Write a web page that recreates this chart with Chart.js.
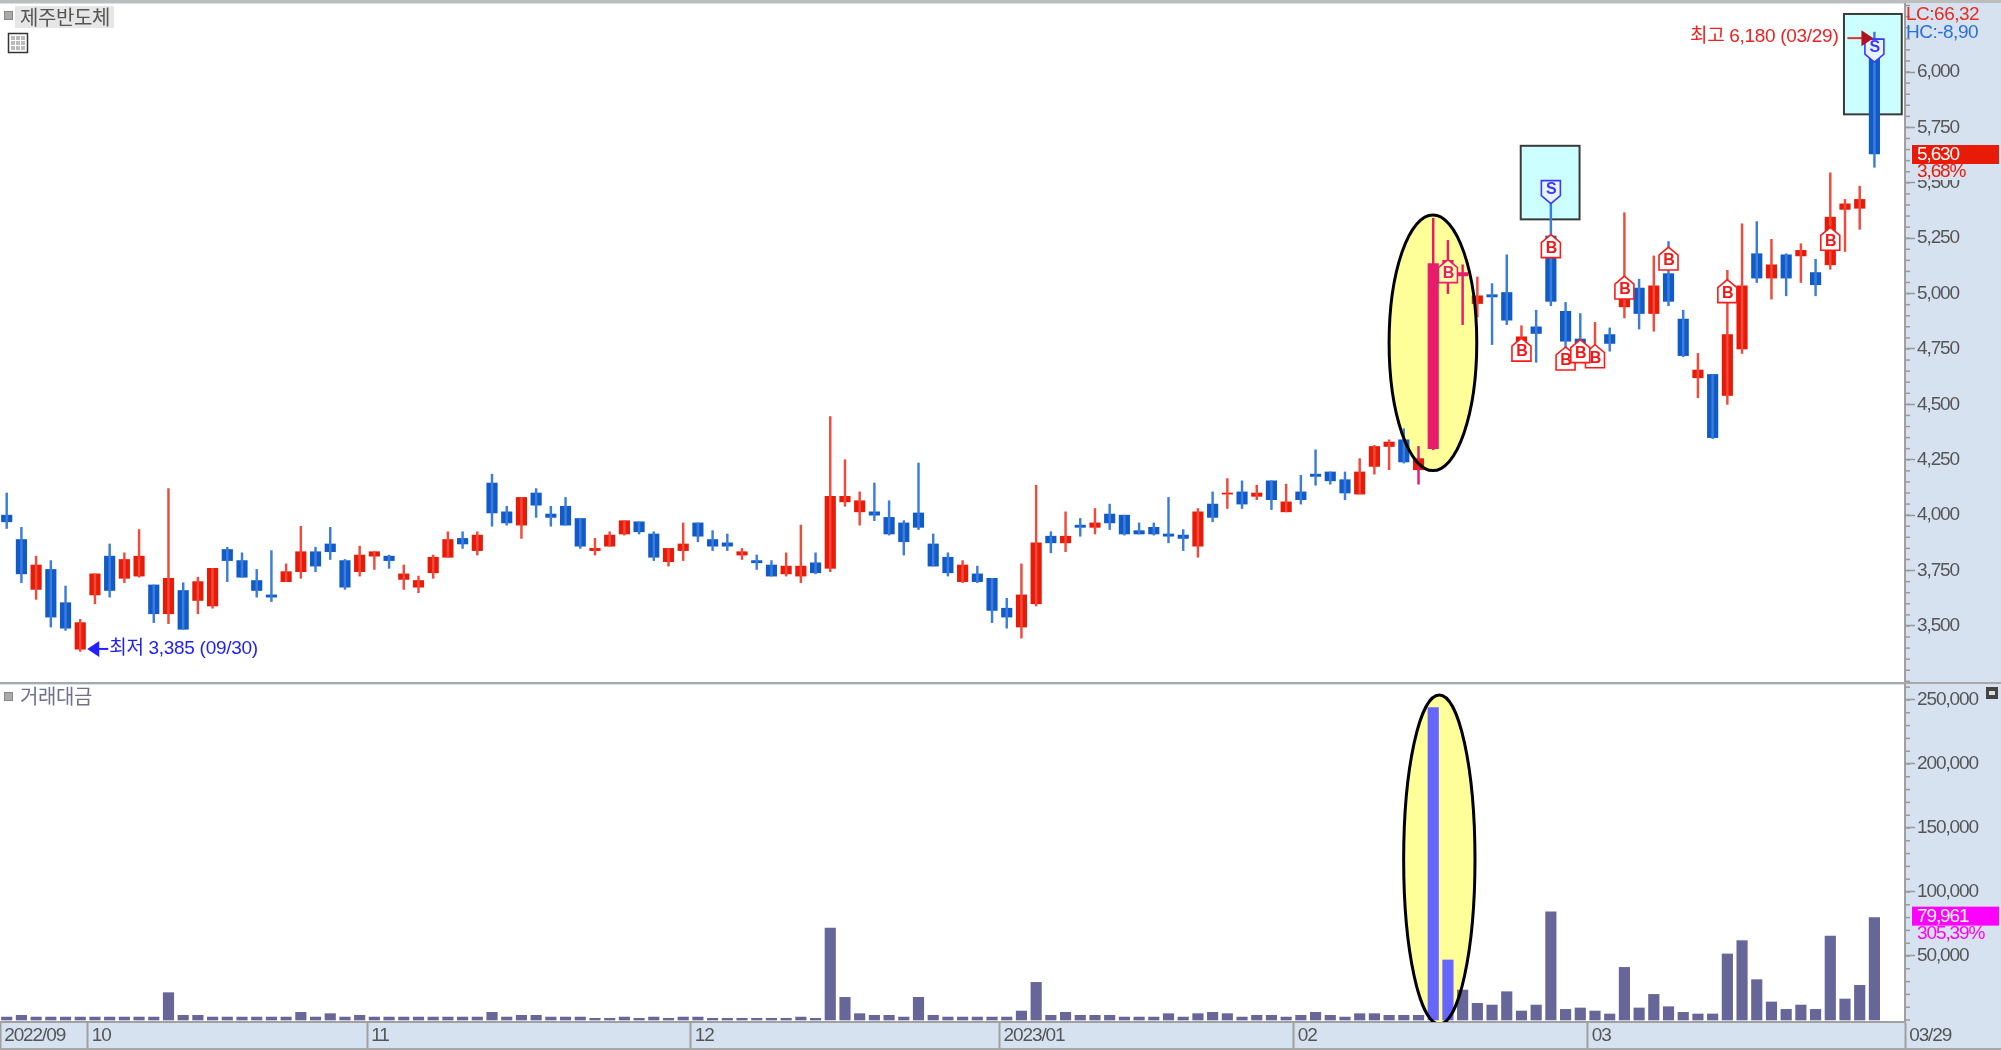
<!DOCTYPE html>
<html>
<head>
<meta charset="utf-8">
<title>제주반도체</title>
<script src="https://cdn.jsdelivr.net/npm/chart.js"></script>
<style>
  body { margin: 0; padding: 0; background-color: #d6e2f0; overflow: hidden; }
  #wrap { position: relative; width: 2001px; height: 1050px; }
  canvas { position: absolute; left: 0; }
  #priceChart { top: 0; }
  #volChart { top: 684px; }
</style>
</head>
<body>
<div id="wrap">
  <canvas id="priceChart" width="2001" height="684"></canvas>
  <canvas id="volChart" width="2001" height="366"></canvas>
</div>

<script>
const monthStarts = [0, 6, 25, 47, 68, 88, 108];
const monthLabels = ['2022/09', '10', '11', '12', '2023/01', '02', '03'];
const lastDate = '03/29';

const opens = [4000,3890,3665,3755,3605,3395,3640,3815,3715,3725,3685,3555,3660,3615,3590,3845,
  3795,3705,3640,3700,3745,3835,3870,3795,3745,3815,3815,3710,3675,3740,3810,3895,
  3840,4145,4015,3955,4100,4005,4040,3985,3840,3860,3915,3970,3915,3790,3840,3965,
  3890,3875,3820,3795,3775,3735,3725,3785,3760,4060,4015,4015,3990,3965,4010,3870,
  3810,3700,3735,3715,3580,3495,3600,3905,3875,3955,3945,4005,4000,3930,3945,3915,
  3910,3860,4050,4095,4105,4085,4155,4015,4105,4185,4195,4160,4095,4220,4310,4340,
  4205,4300,5075,5080,4955,4995,5005,4760,4850,5260,4920,4795,4695,4815,4940,5025,
  4910,5090,4885,4620,4635,4540,4750,5180,5070,5175,5170,5095,5130,5380,5385,6150];
const highs = [4100,3945,3815,3795,3680,3530,3735,3870,3830,3935,3685,4120,3695,3720,3760,3855,
  3830,3755,3840,3780,3950,3855,3945,3800,3860,3835,3820,3775,3725,3820,3925,3925,
  3925,4185,4040,4080,4120,4040,4080,3985,3895,3925,3975,3970,3925,3850,3965,3965,
  3930,3915,3850,3820,3795,3830,3955,3830,4445,4250,4105,4145,4065,3975,4235,3915,
  3830,3795,3770,3715,3625,3780,4135,3925,4015,3985,4030,4050,4000,3965,3965,4080,
  3935,4030,4105,4165,4155,4135,4155,4140,4180,4295,4195,4195,4255,4315,4340,4390,
  4310,5340,5240,5130,5075,5045,5175,4855,4925,5510,4960,4910,4870,4845,5365,5065,
  5170,5235,4925,4730,4635,5105,5315,5325,5245,5180,5225,5155,5545,5425,5485,6180];
const lows = [3940,3695,3620,3495,3480,3385,3600,3630,3695,3720,3515,3510,3485,3555,3580,3700,
  3720,3630,3610,3700,3715,3745,3800,3665,3725,3755,3760,3665,3650,3715,3810,3850,
  3820,3950,3955,3895,3990,3950,3955,3850,3820,3860,3910,3915,3795,3770,3795,3880,
  3840,3840,3800,3755,3725,3725,3695,3735,3745,4040,3955,3975,3910,3820,3935,3770,
  3725,3695,3695,3515,3490,3445,3590,3830,3835,3905,3915,3935,3910,3915,3910,3875,
  3840,3810,3970,4030,4030,4070,4025,4015,4050,4135,4140,4070,4095,4185,4205,4235,
  4140,4295,5000,4860,4895,4770,4860,4755,4690,4945,4715,4700,4680,4740,4890,4840,
  4830,4945,4715,4530,4345,4500,4730,5050,4975,4990,5050,4990,5110,5190,5290,5570];
const closes = [3970,3735,3775,3540,3490,3515,3735,3660,3800,3815,3555,3715,3485,3700,3760,3795,
  3720,3660,3630,3745,3835,3770,3835,3675,3820,3835,3795,3735,3705,3810,3890,3870,
  3910,4010,3965,4080,4045,3990,3955,3860,3850,3910,3975,3925,3810,3850,3870,3905,
  3860,3860,3835,3785,3725,3770,3770,3740,4085,4085,4065,4000,3915,3880,3945,3770,
  3740,3775,3700,3570,3540,3640,3875,3875,3905,3945,3965,3965,3915,3915,3915,3905,
  3895,4015,3990,4100,4050,4100,4070,4060,4070,4175,4155,4100,4195,4310,4330,4240,
  4255,5135,5150,5095,4990,4985,4880,4805,4820,4965,4785,4775,4730,4775,5000,4910,
  5035,4965,4720,4655,4350,4815,5035,5070,5130,5070,5195,5040,5345,5405,5425,5630];
const volumes = [2300,3650,2300,2300,2300,2300,2300,2300,2300,2300,2300,21350,3650,3650,2300,2300,
  2300,2300,2300,2300,6000,2300,4950,2300,3650,2300,2300,2300,2300,2300,2300,2300,
  2300,6000,2300,3650,3650,2300,2300,2300,1300,1300,2300,1300,2300,1300,2300,2300,
  1300,1300,1300,1300,1300,1300,2300,1300,71900,17700,4950,3650,3650,2300,17700,3650,
  2300,2300,2300,2300,2300,7000,29400,3650,6000,3650,3650,3650,2300,2300,2300,4950,
  2300,4950,6000,4950,2300,3650,3650,2300,3650,6000,3650,2300,4950,4950,3650,3650,
  3650,244000,46900,23400,13000,11700,22100,7000,11700,84600,8300,9400,7000,4700,41100,9400,
  20000,10400,6000,4700,4700,51600,62000,31500,14100,8300,11700,8300,65600,16400,27100,79961];

const priceTicks = [3500,3750,4000,4250,4500,4750,5000,5250,5500,5750,6000];
const volumeTicks = [50000,100000,150000,200000,250000];

const buyIndex = [103,108,106,107,98,105,110,113,117,124];
const buyPrice = [4745,4715,4705,4738,5099,5212,5025,5156,5009,5245];
const sellIndex = [105,127];
const sellPrice = [5460,6099];

const RED = '#e81a08', BLUE = '#115bc9', PINK = '#e81c6c', VOL = '#666699', VOLHI = '#6666ff';
const FONT = '"Liberation Sans", "Noto Sans CJK KR", sans-serif';
const KFONT = '"Noto Sans CJK KR", sans-serif';
const PANEL = '#d6e2f0';
const SQUEEZE = '-1.1px';
const XMIN = -0.456, XMAX = 129.08;
const pinkBodies = [97,98,99];
const pinkWicks = [96,97,98,99];
const n = opens.length;

function isUp(i) { return closes[i] >= opens[i]; }

function ellipse(ctx, chart, x0, x1, v0, v1) {
  const xs = chart.scales.x, ys = chart.scales.y;
  const l = xs.getPixelForValue(x0), r = xs.getPixelForValue(x1);
  const t = ys.getPixelForValue(v0), b = ys.getPixelForValue(v1);
  ctx.beginPath();
  ctx.ellipse((l + r) / 2, (t + b) / 2, (r - l) / 2, (b - t) / 2, 0, 0, Math.PI * 2);
}

function clipArea(ctx, a) {
  ctx.beginPath();
  ctx.rect(a.left, a.top, a.right - a.left, a.bottom - a.top);
  ctx.clip();
}

function minorTicks(ctx, chart, step) {
  const ys = chart.scales.y;
  ctx.strokeStyle = '#999';
  ctx.lineWidth = 1.5;
  for (let v = Math.ceil(ys.min / step) * step; v <= ys.max; v += step) {
    const y = ys.getPixelForValue(v);
    ctx.beginPath();
    ctx.moveTo(ys.left, y);
    ctx.lineTo(ys.left + 5, y);
    ctx.stroke();
  }
}

function marker(ctx, x, y, letter, yellow) {
  const down = letter === 'S';
  const s = down ? -1 : 1;
  ctx.beginPath();
  ctx.moveTo(x, y - 12 * s);
  ctx.lineTo(x + 9.5, y - 4 * s);
  ctx.lineTo(x + 9.5, y + 11 * s);
  ctx.lineTo(x - 9.5, y + 11 * s);
  ctx.lineTo(x - 9.5, y - 4 * s);
  ctx.closePath();
  ctx.fillStyle = down ? '#e6f4ff' : (yellow ? '#ffffb0' : '#fff');
  ctx.fill();
  ctx.lineWidth = 1.6;
  ctx.strokeStyle = down ? '#3a3aff' : (yellow ? PINK : '#ff1a1a');
  ctx.stroke();
  ctx.fillStyle = down ? '#3a3aff' : (yellow ? PINK : '#f01818');
  ctx.font = 'bold 16px "Liberation Sans", sans-serif';
  ctx.textAlign = 'center';
  ctx.textBaseline = 'middle';
  ctx.fillText(letter, x, y + (down ? -2 : 2));
}

function valueBox(ctx, y, color, text, pct) {
  ctx.fillStyle = PANEL;
  ctx.fillRect(1912, y + 9, 80, 17);
  ctx.fillStyle = color;
  ctx.fillRect(1912, y - 9, 87, 19);
  ctx.font = '19px ' + FONT;
  ctx.textAlign = 'left';
  ctx.textBaseline = 'middle';
  ctx.fillStyle = '#fff';
  ctx.fillText(text, 1917, y + 1);
  ctx.fillStyle = color;
  ctx.fillText(pct, 1917, y + 18);
}

const paneBase = {
  id: 'paneBase',
  beforeDraw(chart) {
    const a = chart.chartArea, ctx = chart.ctx;
    ctx.letterSpacing = SQUEEZE;
    ctx.fillStyle = '#fff';
    ctx.fillRect(a.left, a.top, a.right - a.left, a.bottom - a.top);
  }
};

const pricePane = {
  id: 'pricePane',
  beforeDatasetsDraw(chart) {
    const ctx = chart.ctx, xs = chart.scales.x, ys = chart.scales.y;
    ctx.save();
    clipArea(ctx, chart.chartArea);
    // signal boxes
    [[102.95, 106.95, 5667, 5335], [124.93, 128.86, 6262, 5809]].forEach(b => {
      const l = xs.getPixelForValue(b[0]), r = xs.getPixelForValue(b[1]);
      const t = ys.getPixelForValue(b[2]), bt = ys.getPixelForValue(b[3]);
      ctx.fillStyle = '#ccffff';
      ctx.fillRect(l, t, r - l, bt - t);
      ctx.strokeStyle = '#3a3a3a';
      ctx.lineWidth = 2;
      ctx.strokeRect(l, t, r - l, bt - t);
    });
    ellipse(ctx, chart, 94.0, 99.96, 5355, 4201);
    ctx.fillStyle = '#ffff99';
    ctx.fill();
    ctx.restore();
  },
  afterDatasetsDraw(chart) {
    const ctx = chart.ctx, xs = chart.scales.x, ys = chart.scales.y;
    ctx.save();
    ellipse(ctx, chart, 94.0, 99.96, 5355, 4201);
    ctx.strokeStyle = '#000';
    ctx.lineWidth = 3;
    ctx.stroke();

    buyIndex.forEach((i, k) => marker(ctx, xs.getPixelForValue(i), ys.getPixelForValue(buyPrice[k]), 'B', i === 98));
    sellIndex.forEach((i, k) => marker(ctx, xs.getPixelForValue(i), ys.getPixelForValue(sellPrice[k]), 'S', false));

    // low / high notes
    const lowX = xs.getPixelForValue(5), lowY = ys.getPixelForValue(3385) - 2.5;
    ctx.fillStyle = ctx.strokeStyle = '#2020ff';
    ctx.lineWidth = 2;
    ctx.beginPath(); ctx.moveTo(lowX + 15, lowY); ctx.lineTo(lowX + 28, lowY); ctx.stroke();
    ctx.beginPath(); ctx.moveTo(lowX + 7, lowY); ctx.lineTo(lowX + 19, lowY - 8); ctx.lineTo(lowX + 19, lowY + 8); ctx.fill();
    ctx.letterSpacing = '-0.3px';
    ctx.font = '19px ' + FONT;
    ctx.textAlign = 'left';
    ctx.textBaseline = 'middle';
    ctx.fillText('최저 3,385 (09/30)', lowX + 29, lowY);

    const hiX = xs.getPixelForValue(127), hiY = ys.getPixelForValue(6180) + 6;
    ctx.fillStyle = '#f02020';
    ctx.textAlign = 'right';
    ctx.fillText('최고 6,180 (03/29)', hiX - 36, hiY - 1);
    ctx.strokeStyle = '#e03030';
    ctx.beginPath(); ctx.moveTo(hiX - 27, hiY); ctx.lineTo(hiX - 8, hiY); ctx.stroke();
    ctx.fillStyle = '#b01020';
    ctx.beginPath(); ctx.moveTo(hiX - 1, hiY); ctx.lineTo(hiX - 13, hiY - 8); ctx.lineTo(hiX - 13, hiY + 8); ctx.fill();
    ctx.restore();
  },
  afterDraw(chart) {
    const ctx = chart.ctx, ys = chart.scales.y;
    ctx.save();
    minorTicks(ctx, chart, 50);

    // top rule and pane divider
    ctx.fillStyle = '#bdbdbd';
    ctx.fillRect(0, 0, 2001, 3);
    ctx.fillStyle = '#a8a8a8';
    ctx.fillRect(0, 682, 2001, 2);

    valueBox(ctx, ys.getPixelForValue(closes[n - 1]), RED, '5,630', '3,68%');

    ctx.letterSpacing = '-0.5px';
    ctx.font = '19px ' + FONT;
    ctx.textAlign = 'left';
    ctx.textBaseline = 'middle';
    ctx.fillStyle = '#e82a20';
    ctx.fillText('LC:66,32', 1906, 15);
    ctx.fillStyle = '#2a70d8';
    ctx.fillText('HC:-8,90', 1906, 33);

    // header
    ctx.fillStyle = '#aaa';
    ctx.fillRect(5, 12, 7, 7);
    ctx.strokeStyle = '#888';
    ctx.lineWidth = 1;
    ctx.strokeRect(4.5, 11.5, 8, 8);
    ctx.fillStyle = '#e6e6e6';
    ctx.fillRect(15, 6, 99, 22);
    ctx.fillStyle = '#555';
    ctx.letterSpacing = '-0.4px';
    ctx.font = '20px ' + KFONT;
    ctx.fillText('제주반도체', 20, 17);

    // table icon
    ctx.strokeStyle = '#333';
    ctx.lineWidth = 1.5;
    ctx.strokeRect(8.5, 33.5, 19, 19);
    ctx.fillStyle = '#bbb';
    ctx.fillRect(11, 36, 14, 14);
    ctx.strokeStyle = '#fff';
    ctx.lineWidth = 1;
    [15.5, 20.5].forEach(x => { ctx.beginPath(); ctx.moveTo(x, 36); ctx.lineTo(x, 50); ctx.stroke(); });
    [40.5, 45.5].forEach(y => { ctx.beginPath(); ctx.moveTo(11, y); ctx.lineTo(25, y); ctx.stroke(); });
    ctx.restore();
  }
};

const volPane = {
  id: 'volPane',
  beforeDatasetsDraw(chart) {
    const ctx = chart.ctx;
    ctx.save();
    clipArea(ctx, chart.chartArea);
    ellipse(ctx, chart, 94.99, 99.84, 253900, -3100);
    ctx.fillStyle = '#ffff99';
    ctx.fill();
    ctx.restore();
  },
  afterDatasetsDraw(chart) {
    const ctx = chart.ctx;
    ctx.save();
    clipArea(ctx, chart.chartArea);
    ellipse(ctx, chart, 94.99, 99.84, 253900, -3100);
    ctx.strokeStyle = '#000';
    ctx.lineWidth = 3;
    ctx.stroke();
    ctx.restore();
  },
  afterDraw(chart) {
    const ctx = chart.ctx, ys = chart.scales.y;
    ctx.save();
    minorTicks(ctx, chart, 10000);
    ctx.fillStyle = '#a8a8a8';
    ctx.fillRect(0, chart.height - 2, 2001, 2);

    valueBox(ctx, ys.getPixelForValue(volumes[n - 1]) - 2, '#ff00ff', '79,961', '305,39%');

    // pane title
    ctx.fillStyle = '#aaa';
    ctx.fillRect(5, 9, 7, 7);
    ctx.strokeStyle = '#888';
    ctx.lineWidth = 1;
    ctx.strokeRect(4.5, 8.5, 8, 8);
    ctx.fillStyle = '#70708c';
    ctx.letterSpacing = '-0.4px';
    ctx.font = '20px ' + KFONT;
    ctx.textAlign = 'left';
    ctx.textBaseline = 'middle';
    ctx.fillText('거래대금', 20, 12);

    // close icon
    ctx.fillStyle = '#444';
    ctx.fillRect(1986, 3, 12, 12);
    ctx.fillStyle = '#ddd';
    ctx.fillRect(1989, 7, 6, 4);
    ctx.restore();
  }
};

function xScale(show) {
  return {
    type: 'linear',
    min: XMIN,
    max: XMAX,
    offset: false,
    display: show,
    afterBuildTicks(s) {
      const vals = monthStarts.map(v => v === 0 ? XMIN : v - 0.5);
      vals.push(XMAX);
      s.ticks = vals.map(v => ({ value: v }));
    },
    afterFit(s) {
      if (show) s.height = 28;
      s.paddingLeft = s.paddingRight = 0;
    },
    border: { display: true, color: '#a0a0a0', width: 2 },
    grid: { offset: false, drawOnChartArea: false, drawTicks: true, tickLength: 27, color: '#a0a0a0', tickColor: '#a0a0a0', tickWidth: 2 },
    ticks: {
      autoSkip: false,
      maxRotation: 0,
      align: 'start',
      padding: -25,
      color: '#555',
      font: { family: FONT, size: 19 },
      callback(v, i) {
        const labels = monthLabels.concat(lastDate);
        return ' ' + labels[i];
      }
    }
  };
}

function yScale(min, max, list) {
  return {
    position: 'right',
    min: min,
    max: max,
    afterBuildTicks(s) { s.ticks = list.map(v => ({ value: v })); },
    afterFit(s) {
      s.width = 96;
      s.paddingTop = s.paddingBottom = 0;
    },
    border: { display: true, color: '#a0a0a0', width: 2 },
    grid: { drawOnChartArea: false, drawTicks: true, tickLength: 10, tickColor: '#999', tickWidth: 1.5 },
    ticks: {
      autoSkip: false,
      crossAlign: 'near',
      padding: 2,
      color: '#555',
      font: { family: FONT, size: 19 },
      callback: v => v.toLocaleString('en-US')
    }
  };
}

const base = {
  responsive: false,
  animation: false,
  devicePixelRatio: 1,
  plugins: { legend: { display: false }, tooltip: { enabled: false } }
};

new Chart(document.getElementById('priceChart'), {
  type: 'bar',
  data: {
    datasets: [{
      label: 'wick',
      grouped: false,
      barThickness: 1.8,
      data: opens.map((o, i) => ({ x: i, y: [lows[i], highs[i]] })),
      backgroundColor: opens.map((o, i) => pinkWicks.includes(i) ? PINK : (isUp(i) ? '#f04a3c' : '#3c7ddc'))
    }, {
      label: 'body',
      grouped: false,
      barThickness: 10.5,
      data: opens.map((o, i) => ({ x: i, y: [o, closes[i]] })),
      backgroundColor: opens.map((o, i) => pinkBodies.includes(i) ? PINK : (isUp(i) ? RED : BLUE))
    }]
  },
  options: Object.assign({}, base, {
    layout: { padding: { top: 4, bottom: 2, left: 0, right: 0 } },
    scales: { x: xScale(false), y: yScale(3247, 6307, priceTicks) }
  }),
  plugins: [paneBase, pricePane]
});

new Chart(document.getElementById('volChart'), {
  type: 'bar',
  data: {
    datasets: [{
      label: '거래대금',
      grouped: false,
      barThickness: 10.5,
      data: volumes.map((v, i) => ({ x: i, y: v })),
      backgroundColor: volumes.map((v, i) => (i === 97 || i === 98) ? VOLHI : VOL)
    }]
  },
  options: Object.assign({}, base, {
    layout: { padding: { top: 1, bottom: 0, left: 0, right: 0 } },
    scales: { x: xScale(true), y: yScale(-1560, 261700, volumeTicks) }
  }),
  plugins: [paneBase, volPane]
});
</script>
</body>
</html>
